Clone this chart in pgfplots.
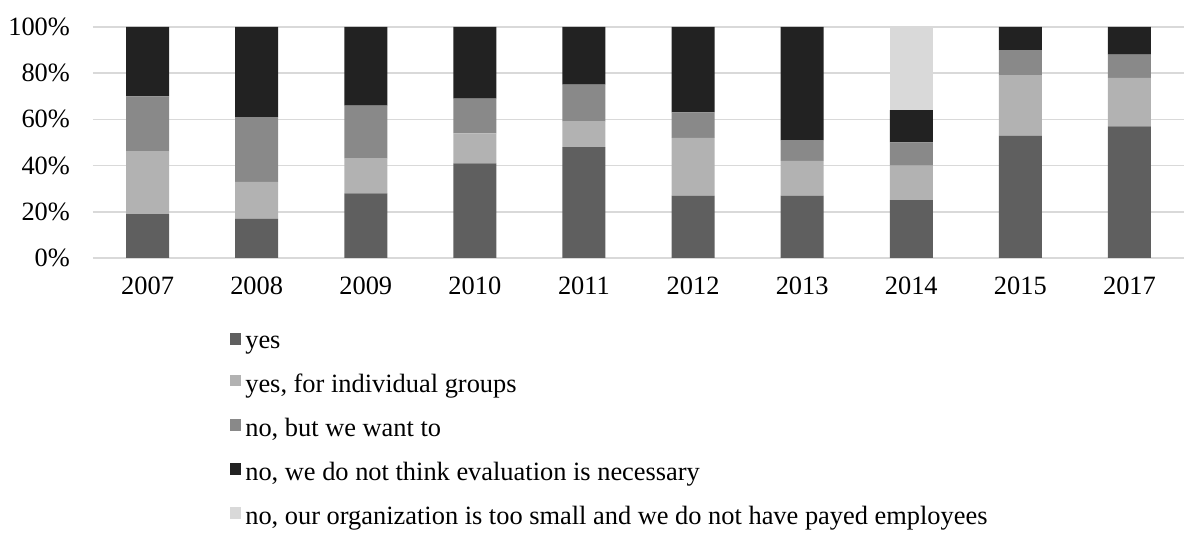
\documentclass[border=0pt]{standalone}
\usepackage{fontspec}
\setmainfont{Liberation Serif}
\usepackage{pgfplots}
\pgfplotsset{compat=1.18}

\definecolor{cYes}{HTML}{5F5F5F}
\definecolor{cInd}{HTML}{B2B2B2}
\definecolor{cWant}{HTML}{898989}
\definecolor{cNot}{HTML}{222222}
\definecolor{cSmall}{HTML}{D9D9D9}
\definecolor{cGrid}{HTML}{D9D9D9}

\begin{document}
\begin{tikzpicture}[font=\rmfamily\fontsize{13.2}{15.8}\selectfont]
\path[use as bounding box] (0,0) rectangle (592pt,267pt);
\begin{axis}[
  at={(46.5pt,138pt)}, anchor=south west,
  scale only axis,
  width=545.5pt, height=115.5pt,
  ybar stacked,
  bar width=21.5pt,
  xmin=-0.5, xmax=9.5,
  ymin=0, ymax=100,
  xtick=data,
  xticklabels={2007,2008,2009,2010,2011,2012,2013,2014,2015,2017},
  ytick={0,20,40,60,80,100},
  yticklabels={0\%,20\%,40\%,60\%,80\%,100\%},
  axis x line*=bottom, axis y line*=left,
  axis line style={draw=none},
  ymajorgrids,
  grid style={cGrid, line width=0.8pt},
  major tick length=0pt,
  tick label style={font=\rmfamily\fontsize{13.2}{15.8}\selectfont},
  yticklabel style={xshift=-8pt},
  xticklabel style={yshift=-6pt},
  legend style={at={(0.12,-0.30)}, anchor=north west, draw=none,
    legend cell align=left, row sep=7.4pt,
    font=\rmfamily\fontsize{13.2}{15.8}\selectfont,
    /tikz/every even column/.append style={column sep=0pt}},
  legend image code/.code={\fill[#1] (0pt,-0.8pt) rectangle (5.5pt,5pt);},
]
% yes
\addplot[fill=cYes, draw=none] coordinates
  {(0,19) (1,17) (2,28) (3,41) (4,48) (5,27) (6,27) (7,25) (8,53) (9,57)};
% yes, for individual groups
\addplot[fill=cInd, draw=none] coordinates
  {(0,27) (1,16) (2,15) (3,13) (4,11) (5,25) (6,15) (7,15) (8,26) (9,21)};
% no, but we want to
\addplot[fill=cWant, draw=none] coordinates
  {(0,24) (1,28) (2,23) (3,15) (4,16) (5,11) (6,9) (7,10) (8,11) (9,10)};
% no, we do not think evaluation is necessary
\addplot[fill=cNot, draw=none] coordinates
  {(0,30) (1,39) (2,34) (3,31) (4,25) (5,37) (6,49) (7,14) (8,10) (9,12)};
% no, our organization is too small
\addplot[fill=cSmall, draw=none] coordinates
  {(0,0) (1,0) (2,0) (3,0) (4,0) (5,0) (6,0) (7,36) (8,0) (9,0)};
\legend{yes, {yes, for individual groups}, {no, but we want to},
  {no, we do not think evaluation is necessary},
  {no, our organization is too small and we do not have payed employees}}
\end{axis}
\end{tikzpicture}
\end{document}
